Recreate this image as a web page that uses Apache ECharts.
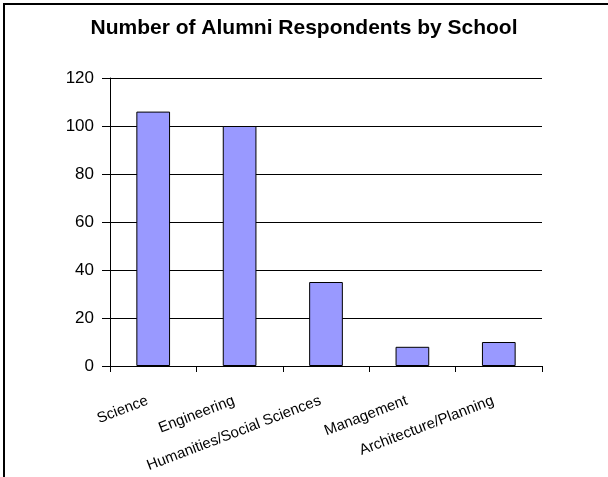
<!DOCTYPE html>
<html>
<head>
<meta charset="utf-8">
<script src="https://cdn.jsdelivr.net/npm/echarts@6/dist/echarts.min.js"></script>
<style>
  html, body { margin: 0; padding: 0; background: #fff; }
  #chart { width: 608px; height: 477px; }
</style>
</head>
<body>
<div id="chart"></div>
<script>
// data
const schools = ['Science', 'Engineering', 'Humanities/Social Sciences', 'Management', 'Architecture/Planning']
const respondents = [106, 100, 35, 8, 10]
const yTicks = [0, 20, 40, 60, 80, 100, 120]

const chart = echarts.init(document.getElementById('chart'))

const option = {
  animation: false,
  backgroundColor: '#fff',
  title: {
    text: 'Number of Alumni Respondents by School',
    left: 'center',
    top: 13,
    textStyle: {
      fontFamily: 'Liberation Sans',
      fontSize: 21,
      fontWeight: 'bold',
      color: '#000'
    }
  },
  // outer frame (cropped on right and bottom in the original)
  graphic: [{
    type: 'rect',
    shape: { x: 4, y: 4, width: 700, height: 700 },
    style: { fill: 'none', stroke: '#000', lineWidth: 2 },
    silent: true
  }],
  grid: {
    left: 110,
    right: 66,
    top: 78,
    bottom: 111
  },
  xAxis: {
    type: 'category',
    data: schools,
    axisLine: { lineStyle: { color: '#000', width: 1 } },
    axisTick: { show: true, length: 6, alignWithLabel: false, lineStyle: { color: '#000' } },
    axisLabel: {
      rotate: 21,
      interval: 0,
      margin: 32,
      padding: [0, 6, 0, 0],
      fontFamily: 'Liberation Sans',
      fontSize: 15,
      color: '#000'
    }
  },
  yAxis: {
    type: 'value',
    min: yTicks[0],
    max: yTicks[yTicks.length - 1],
    interval: 20,
    axisLine: { show: true, lineStyle: { color: '#000', width: 1 } },
    axisTick: { show: true, length: 8, lineStyle: { color: '#000' } },
    axisLabel: {
      margin: 16,
      fontFamily: 'Liberation Sans',
      fontSize: 17,
      color: '#000'
    },
    splitLine: { lineStyle: { color: '#000', width: 1 } }
  },
  series: [{
    type: 'bar',
    data: respondents,
    barWidth: '39%',
    itemStyle: {
      color: '#9999ff',
      borderColor: '#000',
      borderWidth: 1
    }
  }]
}

chart.setOption(option)
</script>
</body>
</html>
